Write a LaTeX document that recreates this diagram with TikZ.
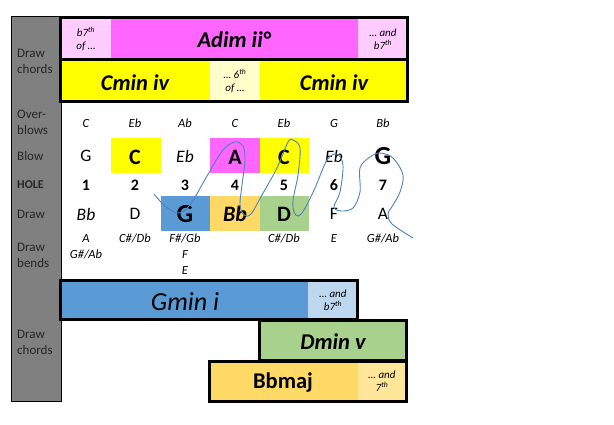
\documentclass[tikz,border=0pt]{standalone}
\usepackage{fontspec}
\setmainfont{Carlito}
\definecolor{cMag}{HTML}{FF66FF}
\definecolor{cPink}{HTML}{FFCCFF}
\definecolor{cYel}{HTML}{FFFF00}
\definecolor{cLYel}{HTML}{FFFFCC}
\definecolor{cBlue}{HTML}{5B9BD5}
\definecolor{cLBlue}{HTML}{BDD7EE}
\definecolor{cGreen}{HTML}{A9D18E}
\definecolor{cOrange}{HTML}{FFD966}
\definecolor{cLOrange}{HTML}{FFE699}
\definecolor{cGray}{HTML}{808080}
\definecolor{labtxt}{HTML}{262626}
\definecolor{cCurve}{HTML}{4F81BD}
\newcommand{\fsz}[2]{\fontsize{#1}{#2}\selectfont}
\begin{document}
\begin{tikzpicture}[x=1pt,y=-1pt,
  lbl/.style={anchor=west, align=left, text=labtxt, font=\fsz{13}{16}, inner sep=0},
  ob/.style={font=\fsz{12.5}{15}\itshape, inner sep=0},
  nrm/.style={font=\fsz{17.5}{20}, inner sep=0},
  nit/.style={font=\fsz{17.5}{20}\itshape, inner sep=0},
  bld/.style={font=\fsz{22}{26}\bfseries, inner sep=0},
  big/.style={font=\fsz{26}{30}\bfseries, inner sep=0},
  hole/.style={font=\fsz{16}{19}\bfseries, inner sep=0},
  chordbi/.style={font=\fsz{22.5}{26}\bfseries\itshape, inner sep=0},
  note/.style={font=\fsz{11}{12.5}\itshape, align=center, inner sep=0},
  box/.style={draw=black, line width=3pt},
  scribble/.style={draw=cCurve, line width=0.9pt}
]
\useasboundingbox (0,0) rectangle (614,425);

% grey label column
\fill[cGray] (11,16) rectangle (61,401);
\draw[line width=0.8pt] (11,16) rectangle (61,401);
\node[lbl] (dc1) at (17,61) {Draw\\chords};
\node[lbl] (ovb) at (17,122) {Over-\\blows};
\node[lbl] (blw) at (17,156) {Blow};
\node[lbl, font=\fsz{12}{14}\bfseries] (hol) at (17,185) {HOLE};
\node[lbl] (drw) at (17,214) {Draw};
\node[lbl] (dbn) at (17,255) {Draw\\bends};
\node[lbl] (dc2) at (17,342) {Draw\\chords};

% top chord boxes
\fill[cPink] (60,17) rectangle (111,59);
\fill[cMag] (111,17) rectangle (358,59);
\fill[cPink] (358,17) rectangle (408,59);
\fill[cYel] (60,59) rectangle (210,102);
\fill[cLYel] (210,59) rectangle (260,102);
\fill[cYel] (260,59) rectangle (408,102);
\draw[box] (60.5,17.5) rectangle (407.5,59.5);
\draw[box] (60.5,59.5) rectangle (407.5,101.5);
\node[note] (a1) at (86,39) {b7\textsuperscript{th}\\of …};
\node[chordbi] (adim) at (234,40) {Adim ii°};
\node[note] (a2) at (383,39) {… and\\b7\textsuperscript{th}};
\node[chordbi] (cmin1) at (135,83) {Cmin iv};
\node[note] (c6) at (235,81) {… 6\textsuperscript{th}\\of …};
\node[chordbi] (cmin2) at (334,83) {Cmin iv};

% highlight cells
\fill[cYel] (111,138) rectangle (161,173);
\fill[cMag] (210,138) rectangle (260,173);
\fill[cYel] (260,138) rectangle (309,173);
\fill[cBlue] (161,196) rectangle (210,231);
\fill[cOrange] (210,196) rectangle (260,231);
\fill[cGreen] (260,196) rectangle (309,231);

% overblows
\node[ob] (o1) at (86,123) {C};
\node[ob] (o2) at (135,123) {Eb};
\node[ob] (o3) at (185,123) {Ab};
\node[ob] (o4) at (235,123) {C};
\node[ob] (o5) at (284,123) {Eb};
\node[ob] (o6) at (334,123) {G};
\node[ob] (o7) at (383,123) {Bb};
% blow
\node[nrm] (b1) at (86,156) {G};
\node[bld] (b2) at (135,157) {C};
\node[nit] (b3) at (185,156) {Eb};
\node[bld] (b4) at (235,157) {A};
\node[bld] (b5) at (284,157) {C};
\node[nit] (b6) at (334,156) {Eb};
\node[big] (b7) at (383,156) {G};
% holes
\node[hole] (h1) at (86,185) {1};
\node[hole] (h2) at (135,185) {2};
\node[hole] (h3) at (185,185) {3};
\node[hole] (h4) at (235,185) {4};
\node[hole] (h5) at (284,185) {5};
\node[hole] (h6) at (334,185) {6};
\node[hole] (h7) at (383,185) {7};
% draw
\node[nit] (d1) at (86,214) {Bb};
\node[nrm] (d2) at (135,214) {D};
\node[big] (d3) at (185,214) {G};
\node[bld, font=\fsz{22}{26}\bfseries\itshape] (d4) at (235,214) {Bb};
\node[bld] (d5) at (284,214) {D};
\node[nrm] (d6) at (334,214) {F};
\node[nrm] (d7) at (383,214) {A};
% bends
\node[ob] (e1a) at (86,238) {A};
\node[ob] (e1b) at (86,254) {G\#/Ab};
\node[ob] (e2) at (135,238) {C\#/Db};
\node[ob] (e3a) at (185,238) {F\#/Gb};
\node[ob] (e3b) at (185,254) {F};
\node[ob] (e3c) at (185,270) {E};
\node[ob] (e5) at (284,238) {C\#/Db};
\node[ob] (e6) at (334,238) {E};
\node[ob] (e7) at (383,238) {G\#/Ab};

% bottom chord boxes
\fill[cBlue] (60,280) rectangle (308,320);
\fill[cLBlue] (308,280) rectangle (358,320);
\draw[box] (60.5,280.5) rectangle (357.5,319.5);
\fill[cGreen] (259,320) rectangle (407,360);
\draw[box] (259.5,320.5) rectangle (406.5,360);
\fill[cOrange] (209,360) rectangle (358,401);
\fill[cLOrange] (358,360) rectangle (407,401);
\draw[box] (209.5,361) rectangle (406.5,401.5);
\node[font=\fsz{26}{30}\itshape, inner sep=0] (gmin) at (185,302) {Gmin i};
\node[note] (g7) at (333,300) {… and\\b7\textsuperscript{th}};
\node[chordbi] (dmin) at (333,342) {Dmin v};
\node[font=\fsz{22.5}{26}\bfseries, inner sep=0] (bbmaj) at (283,383) {Bbmaj};
\node[note] (bb7) at (382,381) {… and\\7\textsuperscript{th}};

% freehand scribble
\draw[scribble] plot[smooth, tension=0.55] coordinates {
(154,194) (165,206) (178,213) (190,205) (207,176) (223,150) (235,142) (243,146)
(245,160) (242,185) (240,205) (244,215) (251,214) (262,195) (277,168) (288,142)
(293,140) (300,148) (298,175) (293,200) (294,212) (298,216) (304,210) (315,188)
(327,160) (337,154) (343,165) (340,192) (334,207) (341,211) (353,208) (360,192)
(360,168) (370,157) (380,153) (393,158) (403,175) (400,192) (393,205) (388,214)
(392,224) (413,238)};
\end{tikzpicture}
\end{document}
